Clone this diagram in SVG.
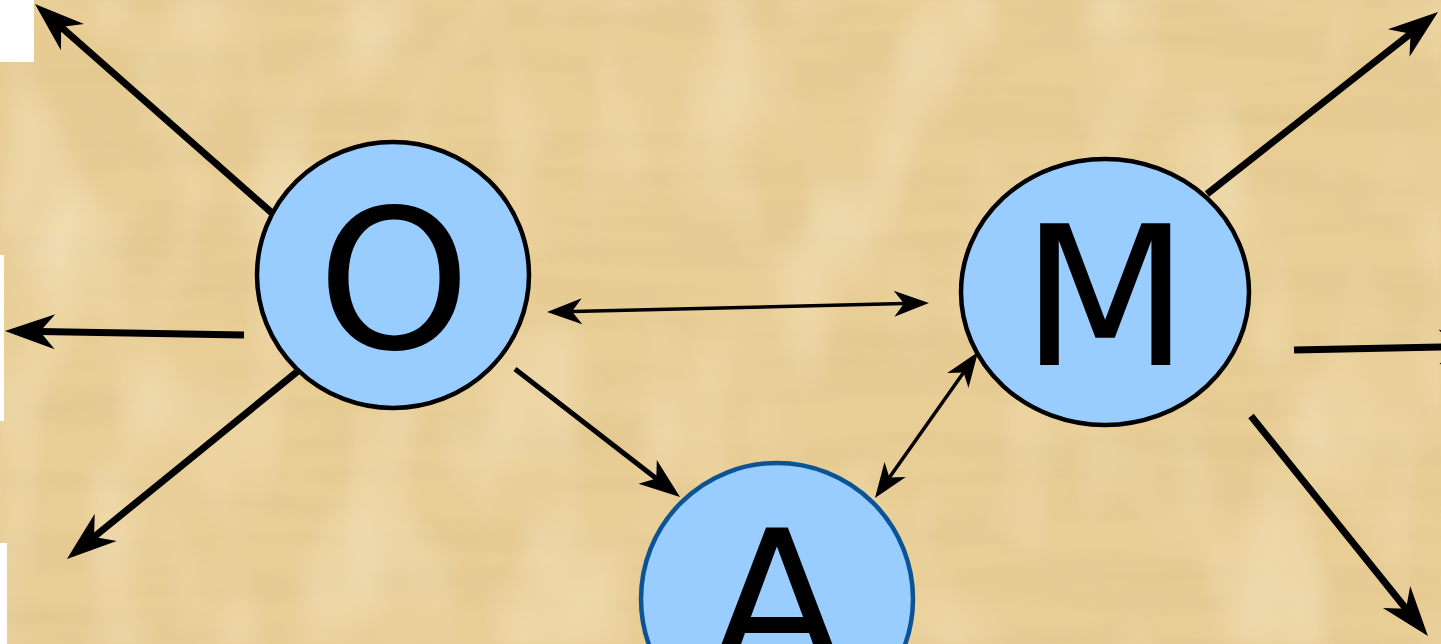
<svg xmlns="http://www.w3.org/2000/svg" width="1441" height="644" viewBox="0 0 1441 644">
  <style>
    .node { fill: #99ccff; stroke: #000; stroke-width: 4.5; }
    .nodeA { fill: #99ccff; stroke: #0b5394; stroke-width: 4.5; }
    .lbl { font-family: "DejaVu Sans", "Liberation Sans", sans-serif; font-size: 195px; fill: #000; text-anchor: middle; }
    .thick { stroke: #000; stroke-width: 7; fill: none; marker-end: url(#headL); }
    .mid { stroke: #000; stroke-width: 5; fill: none; marker-end: url(#headM); }
    .thin { stroke: #000; stroke-width: 3.5; fill: none; marker-start: url(#headS); marker-end: url(#headS); }
  </style>
  <defs>
    <marker id="headL" markerUnits="userSpaceOnUse" viewBox="-20 -20 60 40" markerWidth="60" markerHeight="40" refX="0" refY="0" orient="auto">
      <path d="M35,0 L-15,-17.5 L0,0 L-15,17.5 Z" fill="#000"/>
    </marker>
    <marker id="headM" markerUnits="userSpaceOnUse" viewBox="-20 -20 60 40" markerWidth="60" markerHeight="40" refX="0" refY="0" orient="auto">
      <path d="M30,0 L-11,-15 L0,0 L-11,15 Z" fill="#000"/>
    </marker>
    <marker id="headS" markerUnits="userSpaceOnUse" viewBox="-20 -20 60 40" markerWidth="60" markerHeight="40" refX="0" refY="0" orient="auto-start-reverse">
      <path d="M25,0 L-10,-13 L0,0 L-10,13 Z" fill="#000"/>
    </marker>
    <filter id="papyrus" x="0" y="0" width="100%" height="100%">
      <feTurbulence type="fractalNoise" baseFrequency="0.003 0.03" numOctaves="3" seed="7" result="n"/>
      <feColorMatrix in="n" type="matrix" values="0 0 0 0 0.72  0 0 0 0 0.56  0 0 0 0 0.26  1.2 0 0 0 -0.5" result="dark"/>
      <feTurbulence type="fractalNoise" baseFrequency="0.012 0.006" numOctaves="2" seed="3" result="v"/>
      <feColorMatrix in="v" type="matrix" values="0 0 0 0 0.98  0 0 0 0 0.88  0 0 0 0 0.66  1.0 0 0 0 -0.45" result="light"/>
      <feMerge result="m"><feMergeNode in="dark"/><feMergeNode in="light"/></feMerge>
      <feGaussianBlur in="m" stdDeviation="3 1.5"/>
    </filter>
  </defs>

  <g id="background">
    <rect x="0" y="0" width="1441" height="644" fill="#e8cd95"/>
    <rect x="0" y="0" width="1441" height="644" filter="url(#papyrus)"/>
    <rect x="0" y="0" width="34" height="62" fill="#fff"/>
    <rect x="0" y="255" width="4" height="166" fill="#fff"/>
    <rect x="0" y="543" width="7" height="101" fill="#fff"/>
  </g>

  <g id="connectors">
    <line class="thick" x1="272" y1="213" x2="61.2" y2="27.1"/>
    <line class="thick" x1="244" y1="335" x2="40" y2="331.6"/>
    <line class="thick" x1="298" y1="371" x2="94.1" y2="536.9"/>
    <line class="thick" x1="1207" y1="194" x2="1410.5" y2="33.7"/>
    <line class="thick" x1="1294" y1="350" x2="1454" y2="346.7"/>
    <line class="thick" x1="1251" y1="416" x2="1406" y2="608.7"/>
    <line class="mid" x1="515" y1="369" x2="656.3" y2="478.6"/>
    <line class="thin" x1="572" y1="311.4" x2="904" y2="303.6"/>
    <line class="thin" x1="889.4" y1="477.6" x2="963.6" y2="372.4"/>
  </g>

  <g id="node-O">
    <ellipse class="node" cx="393" cy="275" rx="136" ry="133"/>
    <text class="lbl" x="394" y="348">O</text>
  </g>
  <g id="node-M">
    <ellipse class="node" cx="1105" cy="292" rx="144" ry="133"/>
    <text class="lbl" x="1105" y="365">M</text>
  </g>
  <g id="node-A">
    <ellipse class="nodeA" cx="777" cy="599" rx="136" ry="136"/>
    <text class="lbl" x="777" y="669">A</text>
  </g>
</svg>
